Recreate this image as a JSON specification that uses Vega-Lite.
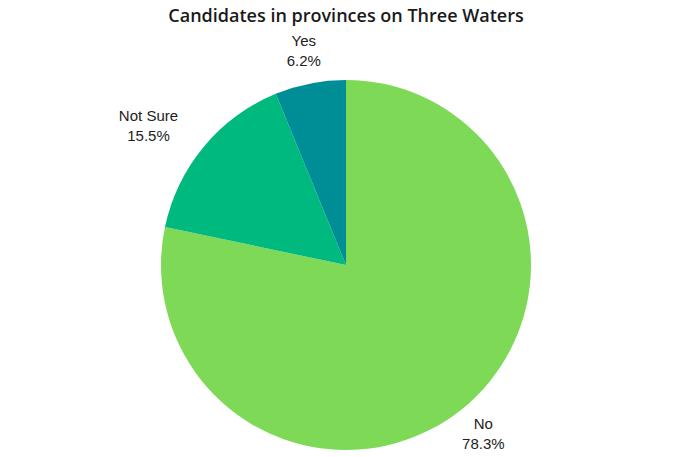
{
  "$schema": "https://vega.github.io/schema/vega-lite/v6.json",
  "autosize": {"type": "none"},
  "width": 678,
  "height": 370,
  "padding": {"left": 7, "right": 0, "top": 80, "bottom": 7},
  "background": "white",
  "title": {
    "text": "Candidates in provinces on Three Waters",
    "font": "Open Sans",
    "fontSize": 18,
    "fontWeight": 600,
    "color": "#1a1a1a",
    "anchor": "middle",
    "offset": 8
  },
  "data": {
    "values": [
      {"category": "No", "value": 0.783},
      {"category": "Not Sure", "value": 0.155},
      {"category": "Yes", "value": 0.062}
    ]
  },
  "encoding": {
    "theta": {"field": "value", "type": "quantitative", "stack": true},
    "order": {"field": "category", "sort": "ascending"}
  },
  "layer": [
    {
      "mark": {"type": "arc", "outerRadius": 185},
      "encoding": {
        "color": {
          "field": "category",
          "type": "nominal",
          "scale": {"domain": ["No", "Not Sure", "Yes"], "range": ["#7ED957", "#00B97F", "#008E96"]},
          "legend": null
        }
      }
    },
    {
      "mark": {"type": "text", "radius": 218, "dy": -10, "font": "Liberation Sans", "fontSize": 15, "fill": "#222222"},
      "encoding": {
        "text": {"field": "category"},
        "opacity": {"condition": {"test": "datum.category === 'Not Sure'", "value": 0}, "value": 1}
      }
    },
    {
      "mark": {"type": "text", "radius": 218, "dy": 10, "font": "Liberation Sans", "fontSize": 15, "fill": "#222222"},
      "encoding": {
        "text": {"field": "value", "format": ".1%"},
        "opacity": {"condition": {"test": "datum.category === 'Not Sure'", "value": 0}, "value": 1}
      }
    },
    {
      "mark": {"type": "text", "radius": 218, "dx": -30, "dy": -10, "font": "Liberation Sans", "fontSize": 15, "fill": "#222222"},
      "encoding": {
        "text": {"field": "category"},
        "opacity": {"condition": {"test": "datum.category === 'Not Sure'", "value": 1}, "value": 0}
      }
    },
    {
      "mark": {"type": "text", "radius": 218, "dx": -30, "dy": 10, "font": "Liberation Sans", "fontSize": 15, "fill": "#222222"},
      "encoding": {
        "text": {"field": "value", "format": ".1%"},
        "opacity": {"condition": {"test": "datum.category === 'Not Sure'", "value": 1}, "value": 0}
      }
    }
  ]
}
